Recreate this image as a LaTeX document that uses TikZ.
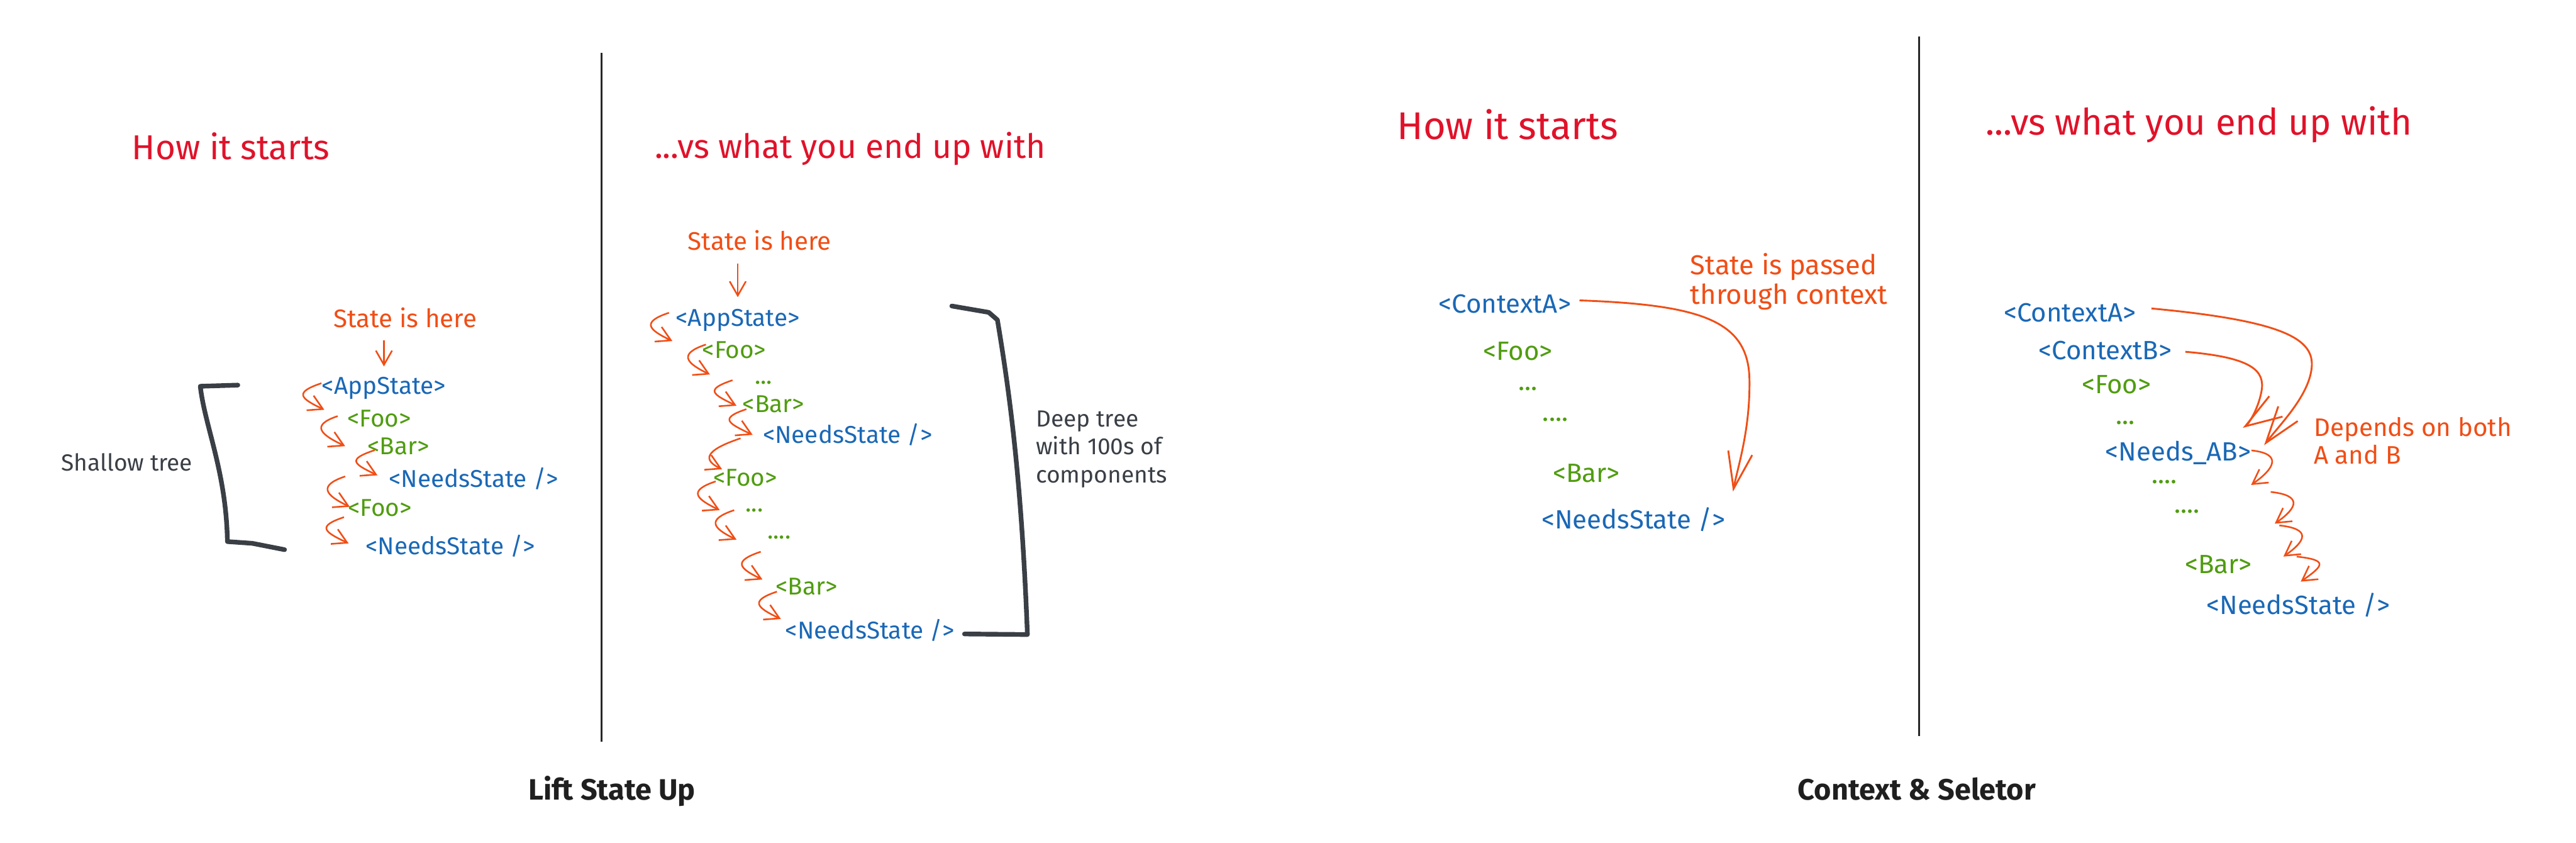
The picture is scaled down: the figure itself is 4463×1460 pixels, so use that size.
\documentclass[tikz,border=0pt]{standalone}
\usepackage{fontspec}
\setmainfont{Fira Sans}
\usetikzlibrary{arrows.meta}
\definecolor{hred}{RGB}{224,18,42}
\definecolor{horange}{RGB}{240,78,22}
\definecolor{hblue}{RGB}{26,104,182}
\definecolor{hgreen}{RGB}{80,156,16}
\definecolor{hdark}{RGB}{58,63,70}
\newcommand{\comp}[5]{\node[code,#1] (#2) at (#3,#4){#5};}

\begin{document}
\begin{tikzpicture}[x=0.01cm,y=-0.01cm,
  code/.style={inner sep=0pt,anchor=base west,font=\fontsize{#1}{#1}\selectfont},code/.default=12,
  blu/.style={text=hblue},grn/.style={text=hgreen},
  title/.style={text=hred,anchor=base,inner sep=0pt,font=\fontsize{#1}{#1}\selectfont},title/.default=17,
  note/.style={text=horange,inner sep=0pt,align=left},
  side/.style={text=hdark,inner sep=0pt,align=left,font=\fontsize{11.5}{13.7}\selectfont},
  lbl/.style={anchor=base,text=black!88,font=\bfseries\fontsize{14.5}{17}\selectfont},
  tip/.style={-{Straight Barb[length=7pt,width=8pt]}},
  wig/.style={horange,line width=0.8pt,tip,
    to path={.. controls +(-48,16) and +(-42,-20) .. (\tikztotarget)}},
  zig/.style={horange,line width=0.8pt,tip,
    to path={.. controls +(55,6) and +(40,-28) .. (\tikztotarget)}},
  flow/.style={horange,line width=0.9pt,-{Straight Barb[length=18pt,width=12pt]}},
  brk/.style={hdark,line width=2.3pt,line cap=round,line join=round},
  divider/.style={black!85,line width=1pt}]
\useasboundingbox (0,0) rectangle (4463,1460);
\draw[divider] (1042,91) -- (1042,1285);
\draw[divider] (3325,63) -- (3325,1275);

\node[title] (t1) at (400,276) {How it starts};
\node[title=16.5] (t2) at (1473,274) {...vs what you end up with};
\node[title=19] (t3) at (2612,241) {How it starts};
\node[title=18] (t4) at (3810,234) {...vs what you end up with};
\node[lbl] (lift) at (1060,1385) {Lift State Up};
\node[lbl] (ctxsel) at (3321,1385) {Context \& Seletor};

% shallow tree
\node[note,anchor=base,font=\fontsize{12.5}{15}\selectfont] (here1) at (702,567) {State is here};
\comp{blu}{app1}{557}{683}{<AppState>}
\comp{grn}{foo1}{601}{739}{<Foo>}
\comp{grn}{bar1}{636}{787}{<Bar>}
\comp{blu}{need1}{673}{844}{<NeedsState />}
\comp{grn}{foo1b}{602}{894}{<Foo>}
\comp{blu}{need1b}{633}{961}{<NeedsState />}
\draw[horange,line width=0.8pt,tip,shorten <=0.21cm,shorten >=0.18cm] (app1.north |- here1.south) -- (app1.north);
\foreach \a/\sx/\sy/\b/\ex/\ey in {app1/0/-9/foo1/-39/-15,foo1/-16/-4/bar1/-38/0,bar1/13/7/need1/-19/-6,need1/-75/-4/foo1b/4/-2,foo1b/-6/16/need1b/-29/-5}
  \draw[wig] ([shift={(\sx,\sy)}]\a.west) to ([shift={(\ex,\ey)}]\b.west);
\draw[brk] (412,667) -- (347,669) .. controls (355,739) and (392,817) .. (394,938) -- (437,941) -- (493,952);
\node[side,anchor=base] (shal) at (220,816) {Shallow tree};

% deep tree
\node[note,anchor=base,font=\fontsize{12.5}{15}\selectfont] (here2) at (1316,433) {State is here};
\comp{blu}{app2}{1170}{565}{<AppState>}
\comp{grn}{foo2}{1216}{620}{<Foo>}
\comp{grn}{dots2a}{1307}{665}{...}
\comp{grn}{bar2}{1286}{714}{<Bar>}
\comp{blu}{need2}{1321}{768}{<NeedsState />}
\comp{grn}{foo2b}{1235}{842}{<Foo>}
\comp{grn}{dots2b}{1291}{886}{...}
\comp{grn}{dots2c}{1329}{933}{....}
\comp{grn}{bar2b}{1343}{1030}{<Bar>}
\comp{blu}{need2b}{1360}{1106}{<NeedsState />}
\draw[horange,line width=0.8pt,tip,shorten <=0.22cm,shorten >=0.2cm] (app2.north |- here2.south) -- (app2.north);
\foreach \a/\sx/\sy/\b/\ex/\ey in {app2/-11/-13/foo2/-51/-15,foo2/7/-9/dots2a/-77/-14,dots2a/-38/-4/bar2/-10/3,bar2/7/9/need2/-17/0,need2/-38/6/foo2b/16/-15,foo2b/5/6/dots2b/-44/0,dots2b/-19/0/dots2c/-53/4,dots2c/-11/25/bar2b/-22/-12,bar2b/3/9/need2b/-7/-19}
  \draw[wig] ([shift={(\sx,\sy)}]\a.west) to ([shift={(\ex,\ey)}]\b.west);
\draw[brk] (1649,530) -- (1713,541) -- (1728,554) .. controls (1750,685) and (1770,836) .. (1780,1099) -- (1671,1098);
\node[side,anchor=north west] (deep) at (1794,711) {Deep tree\\with 100s of\\components};

% context
\comp{blu,code=13}{ctxA3}{2492}{542}{<ContextA>}
\comp{grn,code=13}{foo3}{2569}{624}{<Foo>}
\comp{grn,code=13}{dots3a}{2630}{676}{...}
\comp{grn,code=13}{dots3b}{2672}{729}{....}
\comp{grn,code=13}{bar3}{2690}{835}{<Bar>}
\comp{blu,code=13}{need3}{2670}{916}{<NeedsState />}
\node[note,anchor=north west,font=\fontsize{13.5}{14.5}\selectfont] (pass) at (2928,438) {State is passed\\through context};
\draw[flow] ([shift={(14,-6)}]ctxA3.east) .. controls (2950,528) and (3030,556) .. (3031,659) .. controls (3032,747) and (3010,811) .. ([shift={(13,-27)}]need3.north east);

% context + selector
\comp{blu,code=13}{ctxA4}{3471}{557}{<ContextA>}
\comp{blu,code=13}{ctxB4}{3531}{623}{<ContextB>}
\comp{grn,code=13}{foo4}{3606}{682}{<Foo>}
\comp{grn,code=13}{dots4a}{3665}{735}{...}
\comp{blu,code=13}{needAB}{3647}{798}{<Needs\_AB>}
\comp{grn,code=13}{dots4b}{3727}{837}{....}
\comp{grn,code=13}{dots4c}{3766}{889}{....}
\comp{grn,code=13}{bar4}{3785}{993}{<Bar>}
\comp{blu,code=13}{need4}{3822}{1064}{<NeedsState />}
\node[note,anchor=north west,font=\fontsize{12.5}{13.6}\selectfont] (dep) at (4008,722) {Depends on both\\A and B};
\draw[flow] ([shift={(26,-7)}]ctxA4.east) .. controls (3960,556) and (4010,588) .. (4005,637) .. controls (4000,686) and (3950,735) .. ([shift={(22,8)}]needAB.north east);
\draw[flow] ([shift={(23,2)}]ctxB4.east) .. controls (3900,619) and (3925,641) .. (3918,678) .. controls (3912,710) and (3895,735) .. ([shift={(-15,-22)}]needAB.north east);
\coordinate (z1) at (3900,840);
\coordinate (z2) at (3941,907);
\coordinate (z3) at (3956,964);
\draw[zig] ([shift={(0,-4)}]needAB.east) to (z1);
\draw[zig] ([shift={(34,12)}]z1) to (z2);
\draw[zig] ([shift={(8,3)}]z2) to (z3);
\draw[zig] ([shift={(23,0)}]z3) to ([shift={(164,-19)}]need4.north west);
\end{tikzpicture}
\end{document}
